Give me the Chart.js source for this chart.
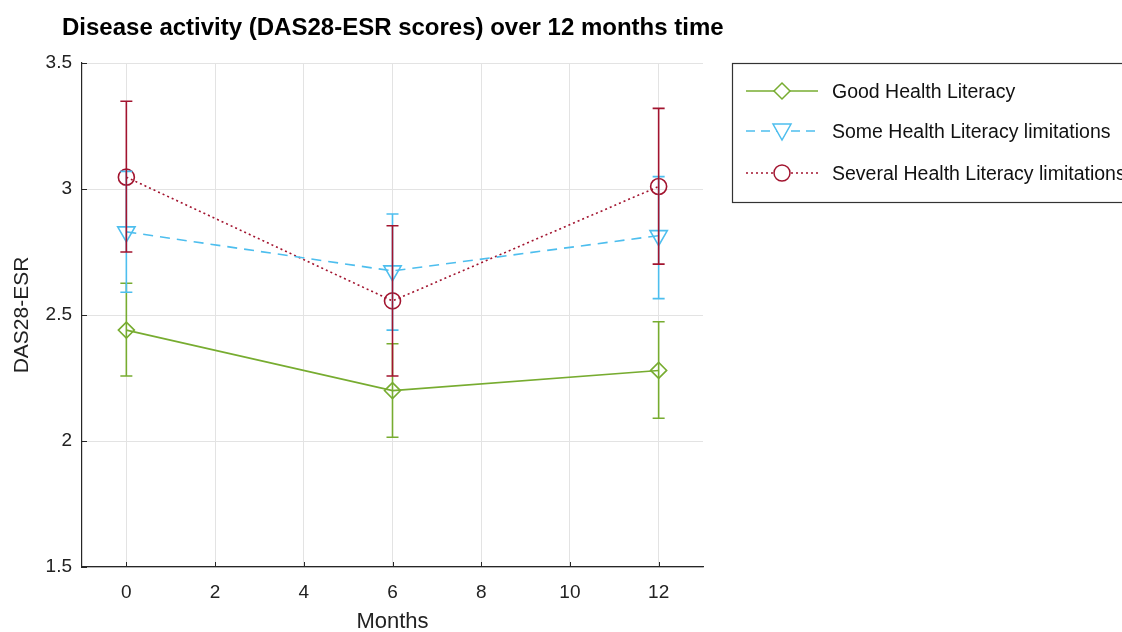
<!DOCTYPE html>
<html>
<head>
<meta charset="utf-8">
<script src="https://cdn.jsdelivr.net/npm/chart.js@4.4.1/dist/chart.umd.min.js"></script>
<style>
html,body{margin:0;padding:0;background:#fff;}
#c{display:block;}
</style>
</head>
<body>
<canvas id="c" width="1122" height="632"></canvas>
<script>
const months = [0, 6, 12];
const xTickValues = [0, 2, 4, 6, 8, 10, 12];
const yTickValues = [1.5, 2, 2.5, 3, 3.5];
const seriesNames = ['Good Health Literacy', 'Some Health Literacy limitations', 'Several Health Literacy limitations'];
const goodMean = [2.44, 2.20, 2.28];
const goodLow = [2.258, 2.015, 2.09];
const goodHigh = [2.626, 2.386, 2.473];
const someMean = [2.83, 2.675, 2.815];
const someLow = [2.59, 2.44, 2.565];
const someHigh = [3.07, 2.901, 3.049];
const severalMean = [3.047, 2.556, 3.01];
const severalLow = [2.75, 2.258, 2.702];
const severalHigh = [3.348, 2.854, 3.32];
const titleText = 'Disease activity (DAS28-ESR scores) over 12 months time';
const xTitle = 'Months';
const yTitle = 'DAS28-ESR';

const GREEN = '#77AC30', BLUE = '#4DBEEE', RED = '#A2142F';
const FONT = '"Liberation Sans", Arial, sans-serif';

function pts(mean){ return months.map((m,i)=>({x:m,y:mean[i]})); }

const errSets = [
  {low: goodLow, high: goodHigh, color: GREEN},
  {low: someLow, high: someHigh, color: BLUE},
  {low: severalLow, high: severalHigh, color: RED}
];

const errorBarPlugin = {
  id: 'errbars',
  afterDatasetsDraw(chart) {
    const ctx = chart.ctx, xs = chart.scales.x, ys = chart.scales.y;
    ctx.save();
    errSets.forEach(s => {
      ctx.strokeStyle = s.color;
      ctx.lineWidth = 1.6;
      ctx.setLineDash([]);
      months.forEach((m, i) => {
        const px = xs.getPixelForValue(m);
        const y1 = ys.getPixelForValue(s.low[i]);
        const y2 = ys.getPixelForValue(s.high[i]);
        ctx.beginPath();
        ctx.moveTo(px, y1); ctx.lineTo(px, y2);
        ctx.moveTo(px - 6, y1); ctx.lineTo(px + 6, y1);
        ctx.moveTo(px - 6, y2); ctx.lineTo(px + 6, y2);
        ctx.stroke();
      });
    });
    ctx.restore();
  }
};

const decorPlugin = {
  id: 'decor',
  afterDraw(chart) {
    const ctx = chart.ctx, xs = chart.scales.x, ys = chart.scales.y, a = chart.chartArea;
    ctx.save();
    ctx.strokeStyle = '#262626';
    ctx.lineWidth = 1;
    ctx.setLineDash([]);
    xTickValues.forEach(v => {
      const px = Math.round(xs.getPixelForValue(v)) + 0.5;
      ctx.beginPath(); ctx.moveTo(px, a.bottom); ctx.lineTo(px, a.bottom - 5); ctx.stroke();
    });
    yTickValues.forEach(v => {
      const py = Math.round(ys.getPixelForValue(v)) + 0.5;
      ctx.beginPath(); ctx.moveTo(a.left, py); ctx.lineTo(a.left + 5, py); ctx.stroke();
    });
    // title
    ctx.fillStyle = '#000';
    ctx.font = 'bold 24px ' + FONT;
    ctx.textAlign = 'left';
    ctx.textBaseline = 'middle';
    ctx.fillText(titleText, 62, 28);
    // legend
    const lx = 732.5, ly = 63.5, lw = 400, lh = 139;
    ctx.strokeStyle = '#333';
    ctx.lineWidth = 1.2;
    ctx.strokeRect(lx, ly, lw, lh);
    const rows = [91, 131, 173];
    const styles = [
      {c: GREEN, dash: [], marker: 'diamond'},
      {c: BLUE, dash: [9, 6], marker: 'tri'},
      {c: RED, dash: [2, 3], marker: 'circle'}
    ];
    rows.forEach((ry, i) => {
      const st = styles[i];
      ctx.strokeStyle = st.c;
      ctx.lineWidth = 1.5;
      ctx.setLineDash(st.dash);
      ctx.beginPath(); ctx.moveTo(746, ry); ctx.lineTo(818, ry); ctx.stroke();
      ctx.setLineDash([]);
      ctx.fillStyle = '#fff';
      const mx = 782;
      ctx.beginPath();
      if (st.marker === 'diamond') {
        ctx.moveTo(mx, ry - 8); ctx.lineTo(mx + 8, ry); ctx.lineTo(mx, ry + 8); ctx.lineTo(mx - 8, ry); ctx.closePath();
      } else if (st.marker === 'tri') {
        ctx.moveTo(mx - 9, ry - 7); ctx.lineTo(mx + 9, ry - 7); ctx.lineTo(mx, ry + 9); ctx.closePath();
      } else {
        ctx.arc(mx, ry, 8, 0, Math.PI * 2);
      }
      ctx.fill(); ctx.stroke();
      ctx.fillStyle = '#111';
      ctx.font = '19.5px ' + FONT;
      ctx.textAlign = 'left';
      ctx.textBaseline = 'middle';
      ctx.fillText(seriesNames[i], 832, ry + 2);
    });
    ctx.restore();
  }
};

new Chart(document.getElementById('c'), {
  type: 'line',
  data: {
    datasets: [
      {label: seriesNames[0], data: pts(goodMean), borderColor: GREEN, backgroundColor: 'rgba(0,0,0,0)',
       borderWidth: 1.6, pointStyle: 'rectRot', pointRadius: 8, pointBorderWidth: 1.6, pointBorderColor: GREEN, pointBackgroundColor: 'rgba(0,0,0,0)'},
      {label: seriesNames[1], data: pts(someMean), borderColor: BLUE, backgroundColor: 'rgba(0,0,0,0)', borderDash: [10, 7],
       borderWidth: 1.6, pointStyle: 'triangle', rotation: 180, pointRadius: 10, pointBorderWidth: 1.6, pointBorderColor: BLUE, pointBackgroundColor: 'rgba(0,0,0,0)'},
      {label: seriesNames[2], data: pts(severalMean), borderColor: RED, backgroundColor: 'rgba(0,0,0,0)', borderDash: [2, 3],
       borderWidth: 1.6, pointStyle: 'circle', pointRadius: 8, pointBorderWidth: 1.6, pointBorderColor: RED, pointBackgroundColor: 'rgba(0,0,0,0)'}
    ]
  },
  options: {
    responsive: false,
    animation: false,
    events: [],
    layout: {padding: {top: 63, right: 419, left: 10, bottom: 0}},
    plugins: {legend: {display: false}, tooltip: {enabled: false}, title: {display: false}},
    scales: {
      x: {
        type: 'linear', min: -1, max: 13,
        afterBuildTicks(s) { s.ticks = xTickValues.map(v => ({value: v})); },
        afterFit(s) { s.height = 65; },
        grid: {color: '#e3e3e3', drawTicks: false, lineWidth: 1},
        border: {color: '#262626', width: 1.2},
        ticks: {color: '#222', font: {family: FONT, size: 19}, padding: 14, callback: v => String(v), maxRotation: 0},
        title: {display: true, text: xTitle, color: '#222', font: {family: FONT, size: 22, lineHeight: 1.0}, padding: {top: 0, bottom: -1}}
      },
      y: {
        type: 'linear', min: 1.5, max: 3.5,
        afterBuildTicks(s) { s.ticks = yTickValues.map(v => ({value: v})); },
        afterFit(s) { s.width = 72; },
        grid: {color: '#e3e3e3', drawTicks: false, lineWidth: 1},
        border: {color: '#262626', width: 1.2},
        ticks: {color: '#222', font: {family: FONT, size: 19}, padding: 10, callback: v => String(v)},
        title: {display: true, text: yTitle, color: '#222', font: {family: FONT, size: 21}, padding: {top: 0, bottom: 0}}
      }
    }
  },
  plugins: [errorBarPlugin, decorPlugin]
});
</script>
</body>
</html>
